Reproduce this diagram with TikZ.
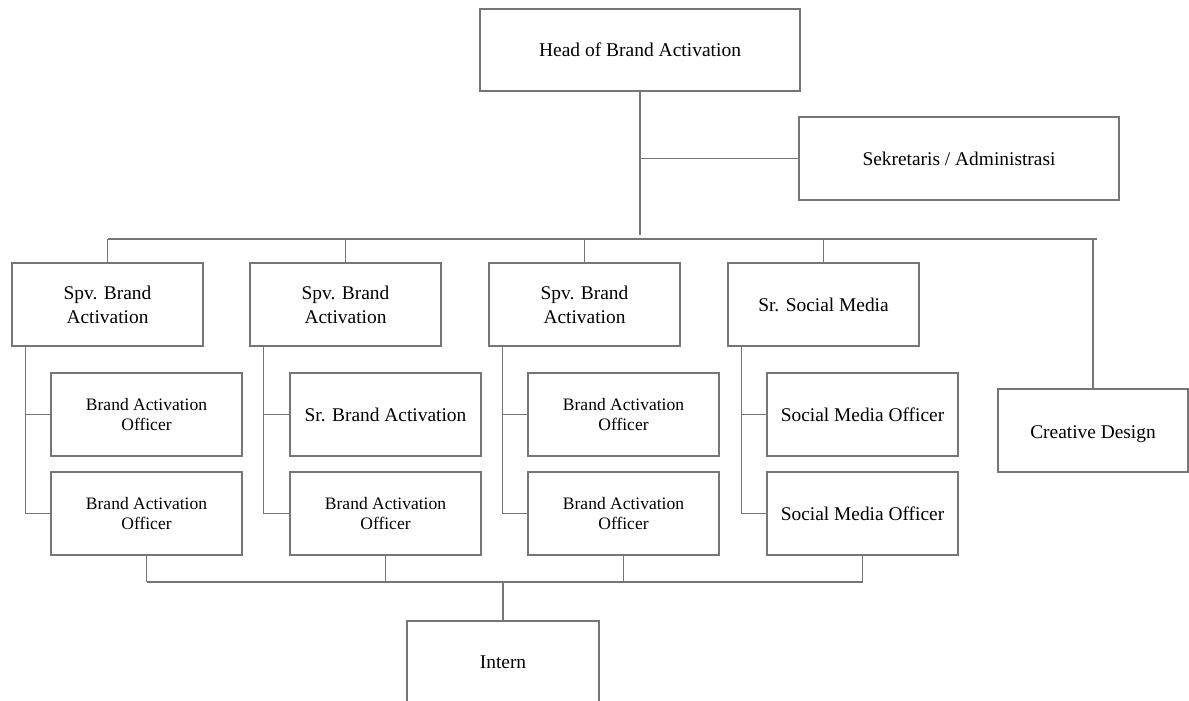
\documentclass[tikz,border=0pt]{standalone}
\usepackage{fontspec}
\setmainfont{Liberation Serif}
\definecolor{linegray}{RGB}{118,118,118}
\begin{document}
\begin{tikzpicture}[x=1pt,y=-1pt,
  box/.style={draw=linegray, line width=1.3pt, fill=white, inner sep=0pt, align=center,
    minimum width=191pt, minimum height=83pt, font=\fontsize{19.4}{23.8}\selectfont},
  smalltext/.style={font=\fontsize{17.5}{20.5}\selectfont},
  conn/.style={draw=linegray, line width=1.3pt}]
\useasboundingbox (0,0) rectangle (1189,701);
% top
\node[box, minimum width=320pt, minimum height=82pt, font=\fontsize{19.5}{23}\selectfont] (head) at (640,50) {Head of Brand Activation};
\node[box, minimum width=320pt] (sek) at (959,158.5) {Sekretaris / Administrasi};
% level 2
\node[box] (spv1) at (107.5,304.5) {Spv. Brand\\Activation};
\node[box] (spv2) at (345.5,304.5) {Spv. Brand\\Activation};
\node[box] (spv3) at (584.5,304.5) {Spv. Brand\\Activation};
\node[box] (ssm) at (823.5,304.5) {Sr. Social Media};
\node[box, minimum width=190pt, text height=15pt, text depth=0pt] (cre) at (1093,430.5) {Creative Design};
% level 3
\node[box, smalltext] (a1) at (146.5,414.5) {Brand Activation\\Officer};
\node[box, smalltext] (a2) at (146.5,513.5) {Brand Activation\\Officer};
\node[box] (b1) at (385.5,414.5) {Sr. Brand Activation};
\node[box, smalltext] (b2) at (385.5,513.5) {Brand Activation\\Officer};
\node[box, smalltext] (c1) at (623.5,414.5) {Brand Activation\\Officer};
\node[box, smalltext] (c2) at (623.5,513.5) {Brand Activation\\Officer};
\node[box] (d1) at (862.5,414.5) {Social Media Officer};
\node[box] (d2) at (862.5,513.5) {Social Media Officer};
% intern
\node[box, minimum width=192pt] (intern) at (503,662.5) {Intern};
% coordinates
\coordinate (busL) at (108,239);
\coordinate (busR) at (1097,239);
\coordinate (bbL) at (146.5,582);
\coordinate (bbR) at (862.5,582);
% head connectors
\draw[conn] (head.south) -- ([yshift=4pt]head.south |- busL);
\draw[conn] (head.south |- sek.west) -- (sek.west);
\draw[conn] (busL) -- (busR);
\foreach \n in {spv1,spv2,spv3,ssm,cre}
  \draw[conn] (\n.north |- busL) -- (\n.north);
% spines
\foreach \p/\u/\l in {spv1/a1/a2, spv2/b1/b2, spv3/c1/c2, ssm/d1/d2}{
  \draw[conn] ([xshift=14pt]\p.south west) -- ([xshift=14pt]\p.south west |- \l.west) -- (\l.west);
  \draw[conn] ([xshift=14pt]\p.south west |- \u.west) -- (\u.west);
}
% bottom bus
\draw[conn] (bbL) -- (bbR);
\foreach \n in {a2,b2,c2,d2}
  \draw[conn] (\n.south) -- (\n.south |- bbL);
\draw[conn] (intern.north |- bbL) -- (intern.north);
\end{tikzpicture}
\end{document}
